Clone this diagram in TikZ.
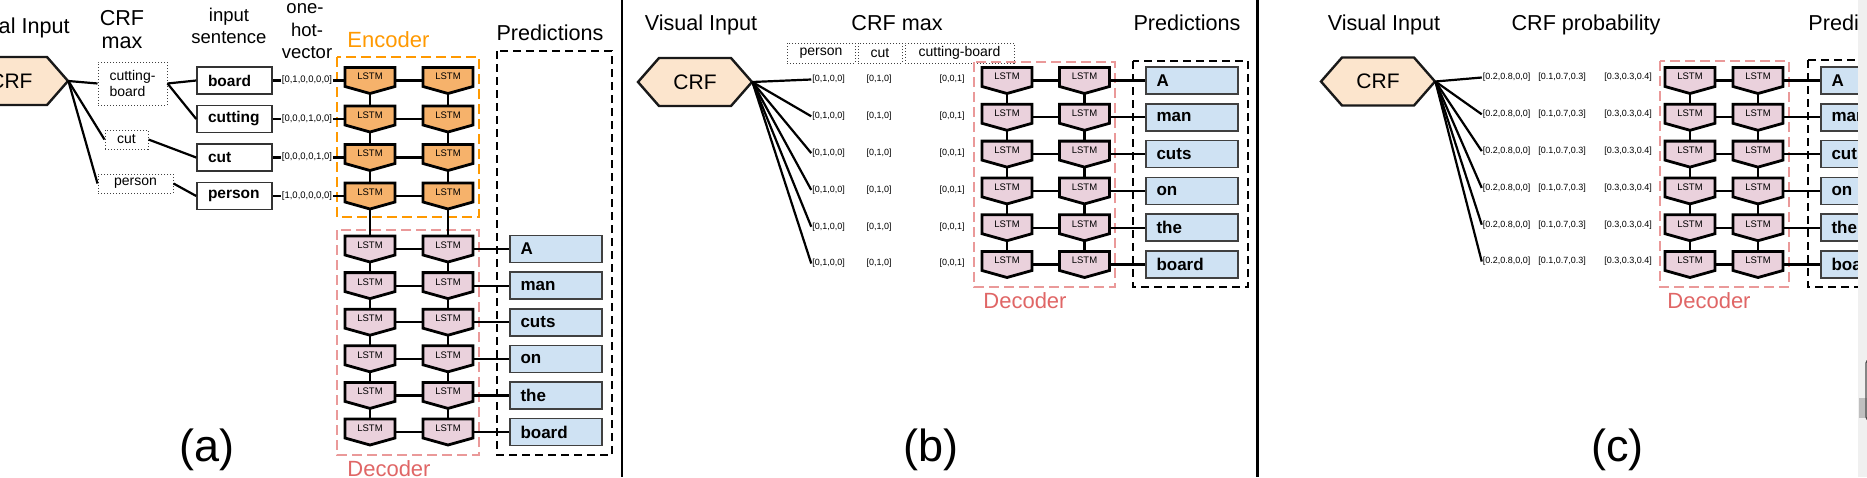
\documentclass[tikz,border=0pt]{standalone}
\usepackage{fontspec}
\setmainfont{Liberation Sans}
\usetikzlibrary{calc}
\definecolor{hexfill}{HTML}{FCE5CD}
\definecolor{encfillc}{HTML}{F6B26B}
\definecolor{decfillc}{HTML}{EAD1DC}
\definecolor{predfillc}{HTML}{CFE2F3}
\definecolor{encline}{HTML}{FF9900}
\definecolor{decline}{HTML}{EA9999}
\definecolor{dectext}{HTML}{E06666}
\newcommand\myfs[1]{\fontsize{#1pt}{#1pt}\selectfont}
\newcommand\crfhex[3]{%
  \path[hexshape] (#2-57,#3) -- (#2-36,#3-24) -- (#2+36,#3-24) -- (#2+57,#3) -- (#2+36,#3+24) -- (#2-36,#3+24) -- cycle;
  \node[hexnode] (#1) at (#2,#3) {CRF};}
\newcommand\lstmcell[4]{%
  \path[#4] (#2-25,#3-13) -- (#2+25,#3-13) -- (#2+25,#3+6) -- (#2,#3+13) -- (#2-25,#3+6) -- cycle;
  \node[lstmnode] (#1) at (#2,#3) {LSTM};}
\tikzset{
  conn/.style={line width=1.1pt, black},
  hexshape/.style={fill=hexfill, draw=black!90, line width=1.2pt},
  hexnode/.style={rectangle, minimum width=57pt, minimum height=24pt, inner sep=0pt, font=\myfs{10.5}},
  encshape/.style={fill=encfillc, draw=black, line width=1.4pt},
  decshape/.style={fill=decfillc, draw=black, line width=1.4pt},
  lstmnode/.style={rectangle, minimum width=25pt, minimum height=13pt, inner sep=0pt, font=\myfs{4.75}, text height=3.4pt, text depth=4pt},
  dotbox/.style={draw=black!75, line width=0.5pt, dash pattern=on 0.5pt off 1pt, inner sep=0pt, font=\myfs{7}},
  inbox/.style={draw=black!80, line width=0.8pt, fill=white, minimum height=13.5pt, text width=26.5pt, inner xsep=5.5pt, inner ysep=0pt, align=left, font=\bfseries\myfs{7.75}},
  predbox/.style={draw=black!75, line width=0.8pt, fill=predfillc, minimum height=13.5pt, text width=35.5pt, inner xsep=5.25pt, inner ysep=0pt, align=left, font=\bfseries\myfs{8.5}},
  vec/.style={inner sep=0.3pt, font=\myfs{4.5}},
  veca/.style={inner sep=0.3pt, font=\myfs{4.75}},
  title/.style={inner sep=0pt, font=\myfs{10.8}},
  subtitle/.style={inner sep=0pt, font=\myfs{9.25}},
  grouplab/.style={inner sep=0pt, font=\myfs{11}},
  encdash/.style={draw=encline, line width=1.3pt, dash pattern=on 5pt off 2.5pt},
  decdash/.style={draw=decline, line width=1.3pt, dash pattern=on 5pt off 2.5pt},
  preddash/.style={draw=black, line width=1.2pt, dash pattern=on 4pt off 2.5pt},
  panellab/.style={inner sep=0pt, font=\myfs{22.5}},
  sep/.style={line width=1.3pt, black},
}
\begin{document}
\begin{tikzpicture}[x=0.5pt, y=-0.5pt]
\useasboundingbox (0,0) rectangle (1867,477);
\clip (0,0) rectangle (1867,477);
\fill[white] (0,0) rectangle (1867,477);

% ---------------- panel (a) ----------------
\node[title, anchor=base east] (viA) at (70,33) {Visual Input};
\node[title, anchor=base] (crfmaxA1) at (122,25) {CRF};
\node[title, anchor=base] (crfmaxA2) at (122,48) {max};
\node[subtitle, anchor=base] (insA1) at (229,21) {input};
\node[subtitle, anchor=base] (insA2) at (229,43) {sentence};
\node[subtitle, anchor=base] (ohvA1) at (305,13) {one-};
\node[subtitle, anchor=base] (ohvA2) at (307,36) {hot-};
\node[subtitle, anchor=base] (ohvA3) at (307,58) {vector};
\node[title, anchor=base] (predTitleA) at (550,40) {Predictions};
\node[grouplab, anchor=base west, text=encline] (encLabA) at (347,47) {Encoder};
\node[grouplab, anchor=base west, text=dectext] (decLabA) at (347,476) {Decoder};

\draw[encdash] (337,57) rectangle (479,217);
\draw[decdash] (337,230) rectangle (479,455);
\draw[preddash] (497,51) rectangle (612,455);

\crfhex{crfA}{11}{81}
\node[dotbox, minimum width=34.5pt, minimum height=21.5pt, align=left, font=\fontsize{7pt}{7.6pt}\selectfont] (cbA) at (132.5,83.5) {cutting-\\board};
\node[dotbox, minimum width=21.5pt, minimum height=9.5pt] (cutA) at (126.5,139.5) {cut};
\node[dotbox, minimum width=37.5pt, minimum height=9.5pt] (personA) at (135.5,183.5) {person};

\foreach \i/\y/\w/\v in {1/80.5/board/{[0,1,0,0,0,0]}, 2/119/cutting/{[0,0,0,1,0,0]}, 3/157.5/cut/{[0,0,0,0,1,0]}, 4/196/person/{[1,0,0,0,0,0]}} {
  \node[inbox] (inA-\i) at (234.5,\y) {\w};
  \node[veca] (ohA-\i) at (307,\y) {\v};
  \lstmcell{encAl-\i}{370}{\y}{encshape}
  \lstmcell{encAr-\i}{448}{\y}{encshape}
  \draw[conn] (inA-\i) -- (ohA-\i);
  \draw[conn] (ohA-\i) -- (encAl-\i);
  \draw[conn] (encAl-\i) -- (encAr-\i);
}
\foreach \i/\j in {1/2,2/3,3/4} {
  \draw[conn] (encAl-\i.south) -- (encAl-\j.north);
  \draw[conn] (encAr-\i.south) -- (encAr-\j.north);
}
\draw[conn] (crfA.east) -- (cbA.west);
\draw[conn] (crfA.east) -- (cutA.west);
\draw[conn] (crfA.east) -- (personA.west);
\draw[conn] (cbA.east) -- (inA-1.west);
\draw[conn] (cbA.east) -- (inA-2.west);
\draw[conn] (cutA.east) -- (inA-3.west);
\draw[conn] (personA.east) -- (inA-4.west);

\foreach \i/\y/\w in {1/249/A, 2/285.6/man, 3/322.2/cuts, 4/358.8/on, 5/395.4/the, 6/432/board} {
  \lstmcell{decAl-\i}{370}{\y}{decshape}
  \lstmcell{decAr-\i}{448}{\y}{decshape}
  \node[predbox] (predA-\i) at (556,\y) {\w};
  \draw[conn] (decAl-\i) -- (decAr-\i);
  \draw[conn] (decAr-\i) -- (predA-\i);
}
\foreach \i/\j in {1/2,2/3,3/4,4/5,5/6} {
  \draw[conn] (decAl-\i.south) -- (decAl-\j.north);
  \draw[conn] (decAr-\i.south) -- (decAr-\j.north);
}
\draw[conn] (encAl-4.south) -- (decAl-1.north);
\draw[conn] (encAr-4.south) -- (decAr-1.north);
\node[panellab] (labA) at (207,450) {(a)};

\draw[sep] (622,0) -- (622,477);

% ---------------- panel (b) ----------------
\node[title, anchor=base] (viB) at (701,30) {Visual Input};
\node[title, anchor=base] (crfmaxB) at (897,30) {CRF max};
\node[title, anchor=base] (predTitleB) at (1187,30) {Predictions};
\node[grouplab, anchor=base west, text=dectext] (decLabB) at (983,308.5) {Decoder};
\node[dotbox, minimum width=34pt, minimum height=10pt] (personB) at (821,53) {person};
\node[dotbox, minimum width=22pt, minimum height=10pt] (cutB) at (880,53) {cut};
\node[dotbox, minimum width=54.5pt, minimum height=10pt] (cbB) at (959.5,53) {cutting-board};

\draw[decdash] (974,62) rectangle (1115,287);
\draw[preddash] (1133,61) rectangle (1248,287);

\crfhex{crfB}{695}{82}
\foreach \i/\y/\w in {1/80.5/A, 2/117.3/man, 3/154.1/cuts, 4/190.9/on, 5/227.7/the, 6/264.5/board} {
  \node[vec] (vB1-\i) at (828.5,\y-1) {[0,1,0,0]};
  \node[vec] (vB2-\i) at (879,\y-1) {[0,1,0]};
  \node[vec] (vB3-\i) at (952,\y-1) {[0,0,1]};
  \lstmcell{decBl-\i}{1007}{\y}{decshape}
  \lstmcell{decBr-\i}{1084.5}{\y}{decshape}
  \node[predbox] (predB-\i) at (1192,\y) {\w};
  \draw[conn] (crfB.east) -- (vB1-\i.west);
  \draw[conn] (decBl-\i) -- (decBr-\i);
  \draw[conn] (decBr-\i) -- (predB-\i);
}
\foreach \i/\j in {1/2,2/3,3/4,4/5,5/6} {
  \draw[conn] (decBl-\i.south) -- (decBl-\j.north);
  \draw[conn] (decBr-\i.south) -- (decBr-\j.north);
}
\node[panellab] (labB) at (931,450) {(b)};

\draw[sep] (1257.5,0) -- (1257.5,477);

% ---------------- panel (c) ----------------
\node[title, anchor=base] (viC) at (1384,30) {Visual Input};
\node[title, anchor=base] (crfprobC) at (1586,30) {CRF probability};
\node[title, anchor=base west] (predTitleC) at (1808,30) {Predictions};
\node[grouplab, anchor=base west, text=dectext] (decLabC) at (1667,308) {Decoder};

\draw[decdash] (1660,61) rectangle (1789,287);
\draw[preddash] (1808,60) rectangle (1923,287);

\crfhex{crfC}{1378}{81.5}
\foreach \i/\y/\w in {1/80.5/A, 2/117.3/man, 3/154.1/cuts, 4/190.9/on, 5/227.7/the, 6/264.5/board} {
  \node[vec] (vC1-\i) at (1506.5,\y-3) {[0.2,0.8,0,0]};
  \node[vec] (vC2-\i) at (1562,\y-3) {[0.1,0.7,0.3]};
  \node[vec] (vC3-\i) at (1628,\y-3) {[0.3,0.3,0.4]};
  \lstmcell{decCl-\i}{1690}{\y}{decshape}
  \lstmcell{decCr-\i}{1758}{\y}{decshape}
  \node[predbox] (predC-\i) at (1867,\y) {\w};
  \draw[conn] (crfC.east) -- (vC1-\i.west);
  \draw[conn] (decCl-\i) -- (decCr-\i);
  \draw[conn] (decCr-\i) -- (predC-\i);
}
\foreach \i/\j in {1/2,2/3,3/4,4/5,5/6} {
  \draw[conn] (decCl-\i.south) -- (decCl-\j.north);
  \draw[conn] (decCr-\i.south) -- (decCr-\j.north);
}
\node[panellab] (labC) at (1617.5,450) {(c)};

% window edge strip
\fill[black!6] (1858,0) rectangle (1867,477);
\fill[black!25] (1859,398) rectangle (1867,418);
\draw[black!70, line width=0.6pt, rounded corners=1.5pt] (1866,360) rectangle (1872,420);
\end{tikzpicture}
\end{document}
